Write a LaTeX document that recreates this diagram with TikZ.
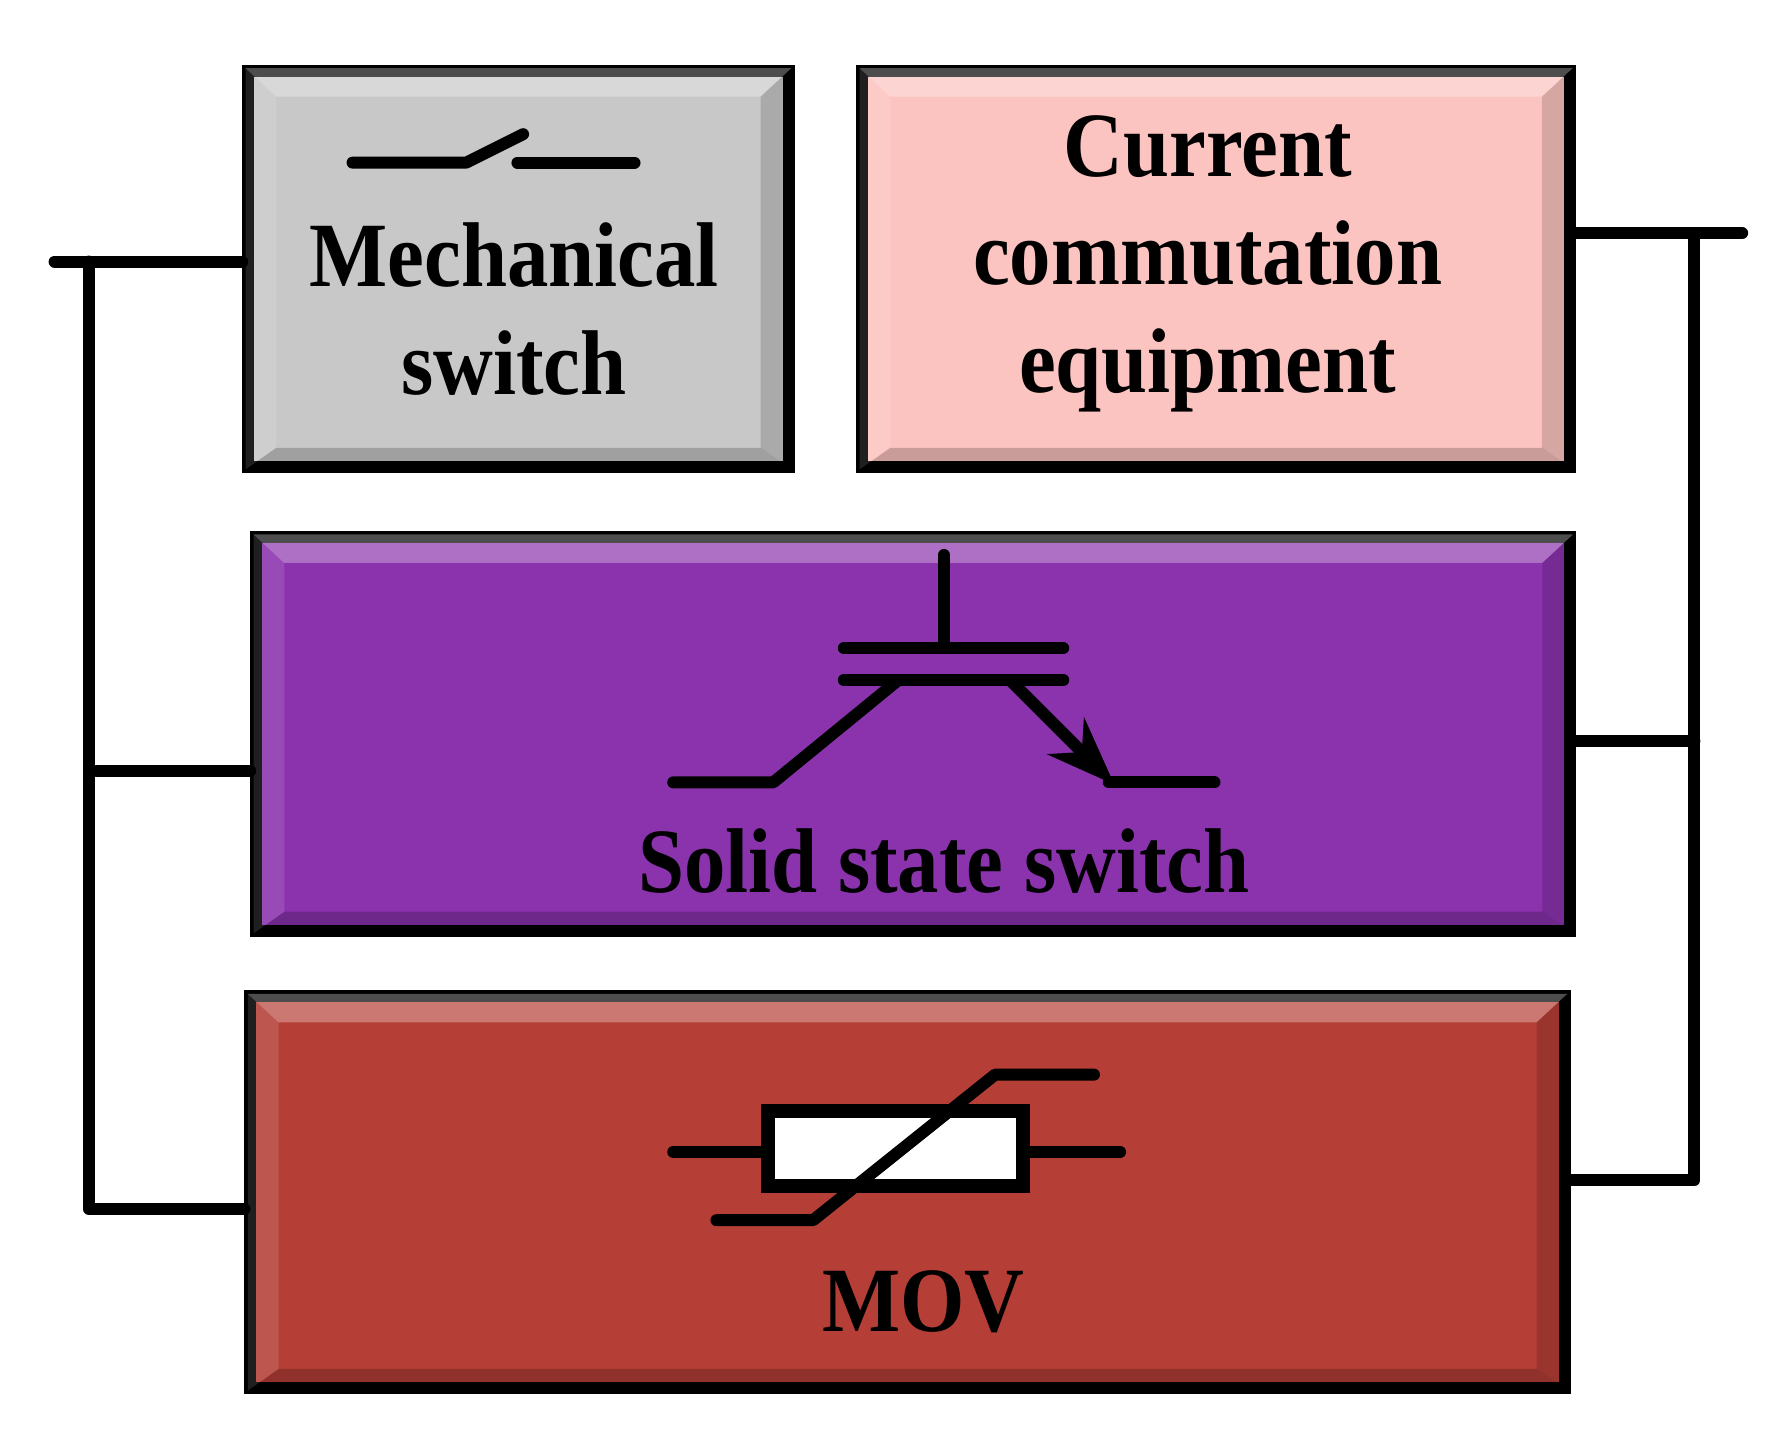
\documentclass[tikz,border=0pt]{standalone}
\usepackage{fontspec}
\setmainfont{Liberation Serif}
\usetikzlibrary{arrows.meta}
\definecolor{cgray}{HTML}{C8C8C8}
\definecolor{cpink}{HTML}{FCC4C0}
\definecolor{cpurple}{HTML}{8A33AD}
\definecolor{cred}{HTML}{B53F36}
\tikzset{
 blk/.style={draw=black,line width=3pt},
 wire/.style={line width=3pt,line cap=round,line join=round},
 lbl/.style={font=\fontsize{23}{28}\selectfont\bfseries,align=center,xscale=0.9,transform shape,inner sep=0pt},
}
\begin{document}
\begin{tikzpicture}[x=0.01cm,y=-0.01cm]
\useasboundingbox (0,0) rectangle (1560,1258);
% boxes
\node[blk,fill=cgray,minimum width=4.75cm,minimum height=3.48cm,anchor=north west] (mech) at (213,57) {};
\node[blk,fill=cpink,minimum width=6.22cm,minimum height=3.48cm,anchor=north west] (cce) at (753,57) {};
\node[blk,fill=cpurple,minimum width=11.55cm,minimum height=3.46cm,anchor=north west] (sss) at (220,467) {};
\node[blk,fill=cred,minimum width=11.55cm,minimum height=3.44cm,anchor=north west] (mov) at (215,871) {};
% bevel
\foreach \b in {mech,cce,sss,mov}{
 \fill[white,opacity=0.3] ([shift={(3,3)}]\b.north west) -- ([shift={(-3,3)}]\b.north east) -- ([shift={(-30,28)}]\b.north east) -- ([shift={(30,28)}]\b.north west) -- cycle;
 \fill[black,opacity=0.2] ([shift={(3,-3)}]\b.south west) -- ([shift={(-3,-3)}]\b.south east) -- ([shift={(-30,-22)}]\b.south east) -- ([shift={(30,-22)}]\b.south west) -- cycle;
 \fill[black,opacity=0.15] ([shift={(-3,3)}]\b.north east) -- ([shift={(-3,-3)}]\b.south east) -- ([shift={(-30,-22)}]\b.south east) -- ([shift={(-30,28)}]\b.north east) -- cycle;
 \fill[white,opacity=0.12] ([shift={(3,3)}]\b.north west) -- ([shift={(3,-3)}]\b.south west) -- ([shift={(30,-22)}]\b.south west) -- ([shift={(30,28)}]\b.north west) -- cycle;
}
% texts
\node[lbl] (tmech) at (452,272) {Mechanical\\[-1pt]switch};
\node[lbl] (tcce) at (1062,232) {Current\\[-1pt]commutation\\[-1pt]equipment};
\node[lbl] (tsss) at (830,757) {Solid state switch};
\node[lbl] (tmov) at (812,1145) {MOV};
% mechanical switch symbol
\draw[wire] (310,143) -- (410,143) -- (460,118);
\draw[wire] (455,143) -- (558,143);
% IGBT
\draw[wire] (830,488) -- (830,570);
\draw[wire] (742,570) -- (935,570);
\draw[wire] (742,598) -- (935,598);
\draw[wire] (592,688) -- (680,688) -- (790,598);
\draw[wire,-{Stealth[length=0.6cm,width=0.45cm]}] (890,600) -- (980,690);
\draw[wire] (975,688) -- (1068,688);
% MOV
\draw[wire] (592,1013) -- (675,1013);
\draw[wire] (900,1013) -- (985,1013);
\draw[line width=3.5pt,fill=white] (675,977) rectangle (900,1043);
\draw[wire] (630,1073) -- (715,1073) -- (875,945) -- (962,945);
% left bus
\coordinate (lt) at (78,230); \coordinate (lb) at (78,1063);
\draw[wire] (48,230) -- (mech.west|-0,230);
\draw[wire] (lt) -- (lb) -- (mov.west|-lb);
\draw[wire] (85,678) -- (sss.west|-0,678);
% right bus
\coordinate (rt) at (1490,205); \coordinate (rb) at (1490,1038);
\draw[wire] (cce.east|-rt) -- (1532,205);
\draw[wire] (rt) -- (rb) -- (mov.east|-rb);
\draw[wire] (sss.east|-0,652) -- (1490,652);
\end{tikzpicture}
\end{document}
